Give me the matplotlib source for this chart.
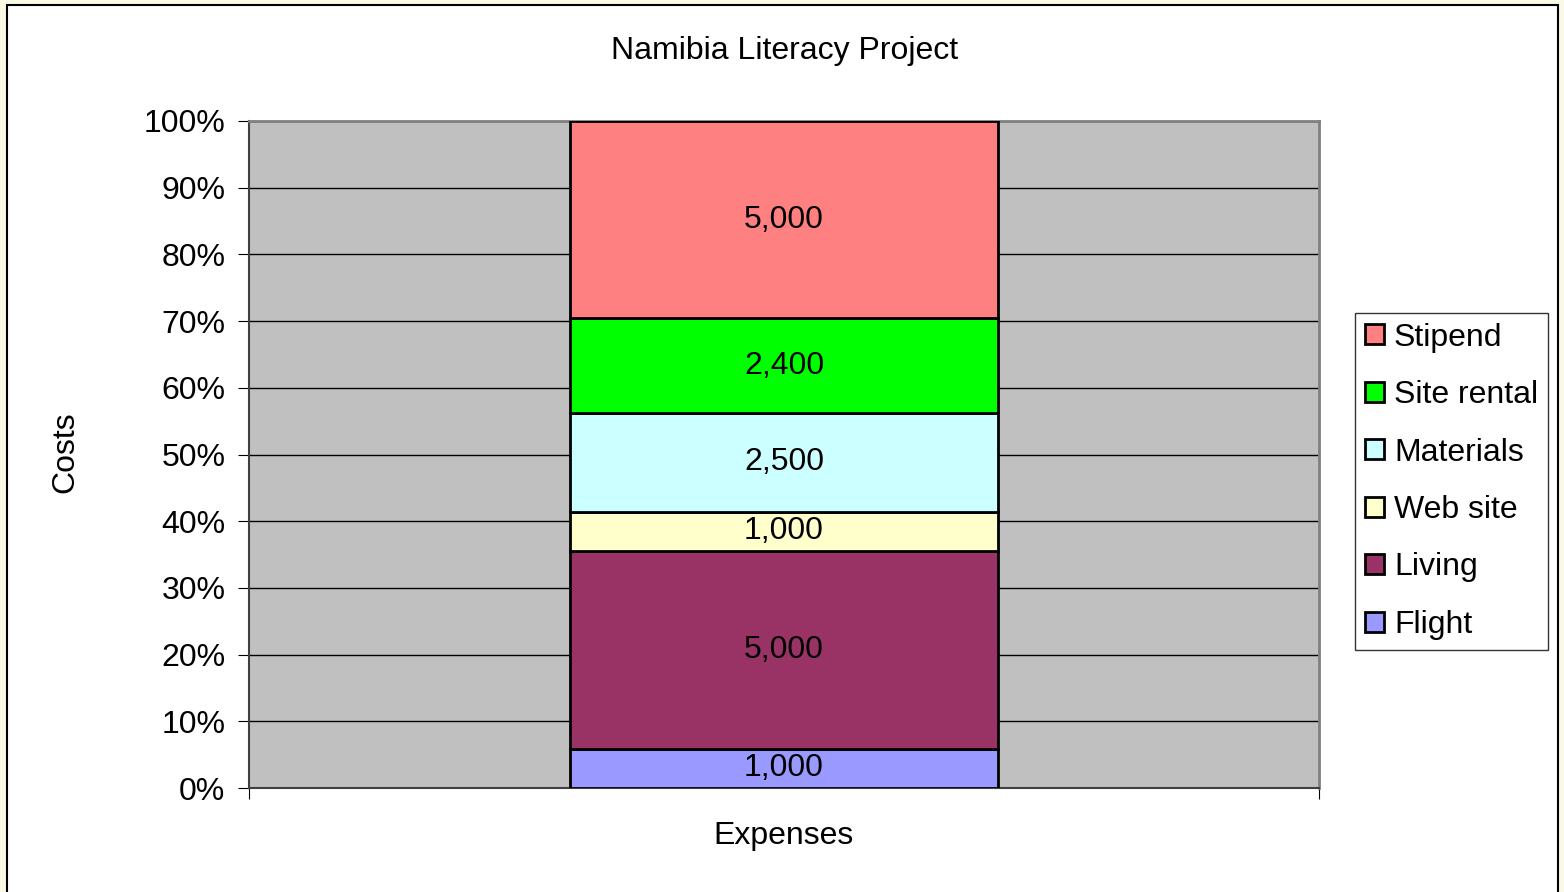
import matplotlib.pyplot as plt
import matplotlib.patches as patches
from matplotlib.ticker import PercentFormatter

plt.rcParams['font.family'] = ['Liberation Sans', 'DejaVu Sans']

# data
categories = ["Expenses"]
series = ["Flight", "Living", "Web site", "Materials", "Site rental", "Stipend"]
values = [1000, 5000, 1000, 2500, 2400, 5000]
colors = ["#9999FF", "#993366", "#FFFFCC", "#CCFFFF", "#00FF00", "#FF8080"]

total = sum(values)
shares = [v / total * 100 for v in values]

FS = 23

fig = plt.figure(figsize=(15.64, 8.92), dpi=100)
fig.patch.set_facecolor("#FAF9E3")

# white chart area with black border
frame = patches.Rectangle((7 / 1564, -0.02), (1558 - 7) / 1564, 1 - 5 / 892 + 0.02,
                          transform=fig.transFigure, facecolor="white",
                          edgecolor="black", linewidth=1.5, zorder=-5)
fig.patches.append(frame)

ax = fig.add_axes([249 / 1564, 1 - 788 / 892, (1319 - 249) / 1564, (788 - 121) / 892])
ax.set_zorder(2)
ax.set_facecolor("#C0C0C0")
ax.set_xlim(-0.5, 0.5)
ax.set_ylim(0, 100)

bottom = 0
handles = []
for name, share, val, col in zip(series, shares, values, colors):
    b = ax.bar(0, share, width=0.4, bottom=bottom, color=col,
               edgecolor="black", linewidth=2, label=name, zorder=3)
    ax.text(0, bottom + share / 2, f"{val:,}", ha="center", va="center",
            fontsize=FS, zorder=4)
    handles.append(b)
    bottom += share

ax.set_yticks(range(0, 101, 10))
ax.yaxis.set_major_formatter(PercentFormatter(decimals=0))
ax.grid(axis="y", color="black", linewidth=1, zorder=1)
ax.tick_params(axis="y", labelsize=FS, length=8, direction="out", pad=9)
ax.set_xticks([-0.5, 0.5])
ax.set_xticklabels(["", ""])
ax.tick_params(axis="x", length=8, direction="out")
ax.text(0, -0.05, categories[0], transform=ax.get_xaxis_transform(),
        ha="center", va="top", fontsize=FS)

for side in ["top", "right"]:
    ax.spines[side].set_color("#808080")
    ax.spines[side].set_linewidth(2)
ax.spines["left"].set_color("#404040")
ax.spines["bottom"].set_color("#404040")
ax.spines["left"].set_linewidth(1.5)
ax.spines["bottom"].set_linewidth(1.5)

fig.text(65 / 1564, 1 - 452 / 892, "Costs", rotation=90, ha="center",
         va="center", fontsize=FS)
fig.text(785 / 1564, 1 - 51 / 892, "Namibia Literacy Project", ha="center",
         va="center", fontsize=23)

leg = ax.legend(handles[::-1], series[::-1], loc="upper left",
                bbox_to_anchor=(1355 / 1564, 1 - 313 / 892), bbox_transform=fig.transFigure,
                fontsize=FS, frameon=True, fancybox=False, edgecolor="black",
                handlelength=0.6, handleheight=0.6, handletextpad=0.32,
                labelspacing=0.86, borderpad=0.3, borderaxespad=0)
leg.get_frame().set_linewidth(1)

fig.savefig("out.png", dpi=100, facecolor=fig.get_facecolor())
